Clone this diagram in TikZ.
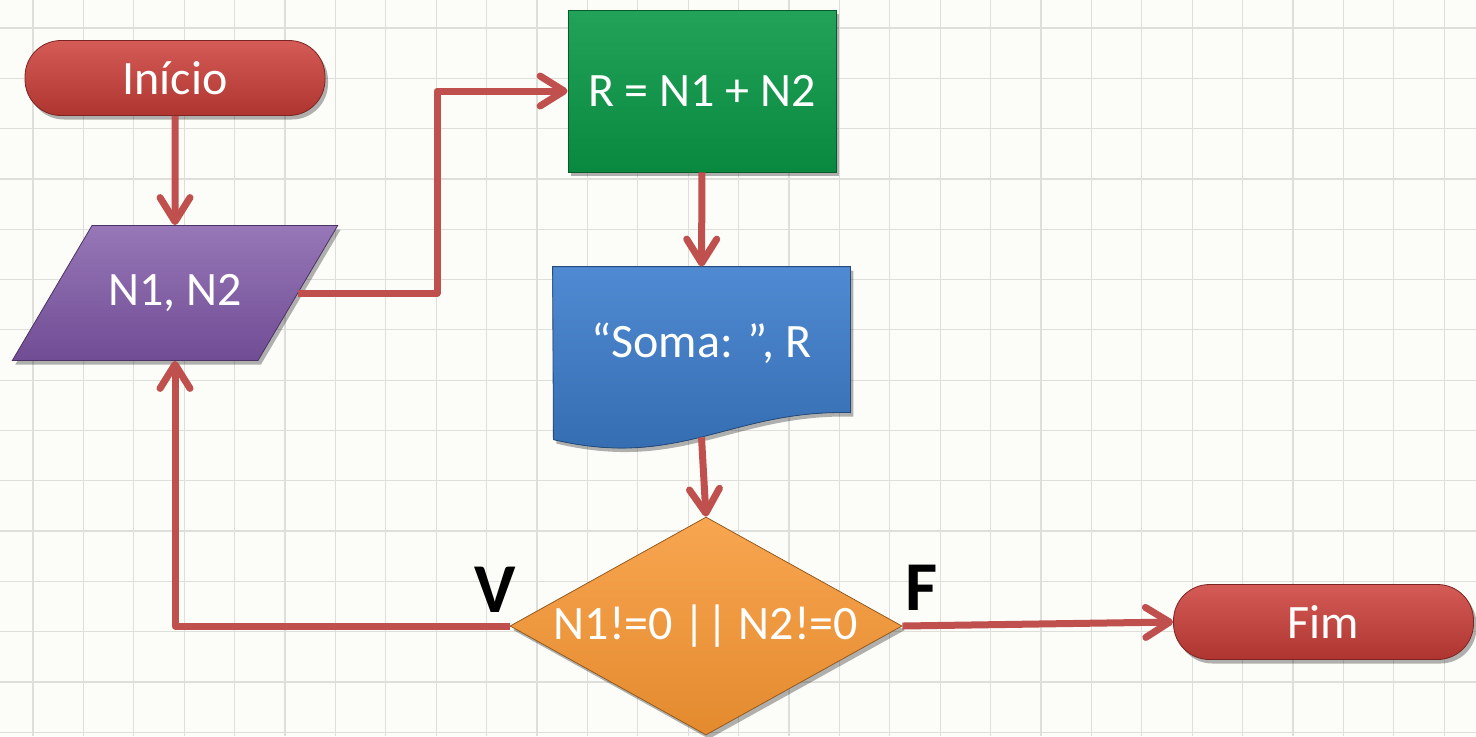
\documentclass[tikz,border=0pt]{standalone}
\usepackage{fontspec}
\setmainfont{Carlito}
\usetikzlibrary{shapes.geometric, arrows.meta, shadows, backgrounds}
\definecolor{vermelho}{RGB}{205,62,56}
\definecolor{roxo}{RGB}{125,85,165}
\definecolor{verde}{RGB}{10,152,70}
\definecolor{azul}{RGB}{60,125,205}
\definecolor{laranja}{RGB}{247,150,50}
\definecolor{seta}{RGB}{192,80,77}
\definecolor{fundo}{RGB}{252,252,248}
\definecolor{grade}{RGB}{222,222,218}
\begin{document}
\begin{tikzpicture}[
  x=0.5pt, y=-0.5pt,
  every node/.style={font=\fontsize{24}{28}\selectfont, text=white, inner sep=0pt},
  sombra/.style={drop shadow={shadow xshift=1.5pt, shadow yshift=-2pt, opacity=0.3, fill=black}},
  terminal/.style={rectangle, rounded corners=18pt, minimum width=150pt, minimum height=37.5pt,
    top color=vermelho!85!white, bottom color=vermelho!85!black, draw=vermelho!60!black, sombra},
  entradabox/.style={trapezium, trapezium left angle=64.6, trapezium right angle=115.4,
    trapezium stretches=true, minimum width=163pt, text height=16pt, text depth=4pt,
    inner ysep=23.75pt, top color=roxo!80!white, bottom color=roxo!90!black,
    draw=roxo!60!black, sombra},
  processo/.style={rectangle, minimum width=134pt, minimum height=81pt,
    top color=verde!90!white, bottom color=verde!90!black, draw=verde!60!black, sombra},
  saidabox/.style={rectangle, minimum width=148.5pt, minimum height=76.5pt},
  documento/.style={top color=azul!90!white, bottom color=azul!85!black, draw=azul!60!black, sombra},
  decisao/.style={diamond, shape aspect=1.8, minimum width=196pt, minimum height=109pt,
    top color=laranja!85!white, bottom color=laranja!92!black, draw=laranja!60!black, sombra},
  fluxo/.style={-{Straight Barb[round, length=12pt, width=15pt]}, line width=3.5pt,
    draw=seta, line join=round},
  rotulo/.style={font=\bfseries\fontsize{35}{40}\selectfont, text=black},
  gradeline/.style={draw=grade, line width=0.6pt},
]
  \useasboundingbox (0,0) rectangle (1476,736);
  % Background grid
  \begin{scope}[on background layer]
    \fill[fundo] (0,0) rectangle (1476,736);
    \foreach \i in {0,...,28}
      \draw[gradeline] ({33+50.4*\i},0) -- ({33+50.4*\i},736);
    \foreach \j in {0,...,14}
      \draw[gradeline] (0,{28+50.3*\j}) -- (1476,{28+50.3*\j});
  \end{scope}
  % Nodes
  \node[terminal] (inicio) at (175,78) {Início};
  \node[entradabox] (entrada) at (175,293) {N1, N2};
  \node[processo] (soma) at (702,91) {R = N1 + N2};
  \node[saidabox] (saida) at (701.5,343.5) {“Soma: ”, R};
  \node[decisao] (teste) at (706,626) {N1!=0 || N2!=0};
  \node[terminal] (fim) at (1323.5,622) {Fim};
  % Document shape behind its text
  \begin{scope}[on background layer]
    \fill[documento] (saida.north west) -- (saida.north east) -- ++(0,146)
      .. controls +(-120,-3) and +(127,30) .. ++(-297,27) -- cycle;
  \end{scope}
  % Edges
  \coordinate (dobra) at (437,90);
  \draw[fluxo] (inicio) -- (entrada);
  \draw[fluxo] (entrada.east) -- (entrada.east -| dobra) |- (soma.west);
  \draw[fluxo] (soma) -- (saida);
  \draw[fluxo] ([yshift=-8.5pt]saida.south) -- (teste.north);
  \draw[fluxo] (teste.west) -| (entrada.south);
  \draw[fluxo] (teste.east) -- (fim.west);
  % Labels
  \node[rotulo] (verdadeiro) at (495,590) {V};
  \node[rotulo] (falso) at (922,588) {F};
\end{tikzpicture}
\end{document}
